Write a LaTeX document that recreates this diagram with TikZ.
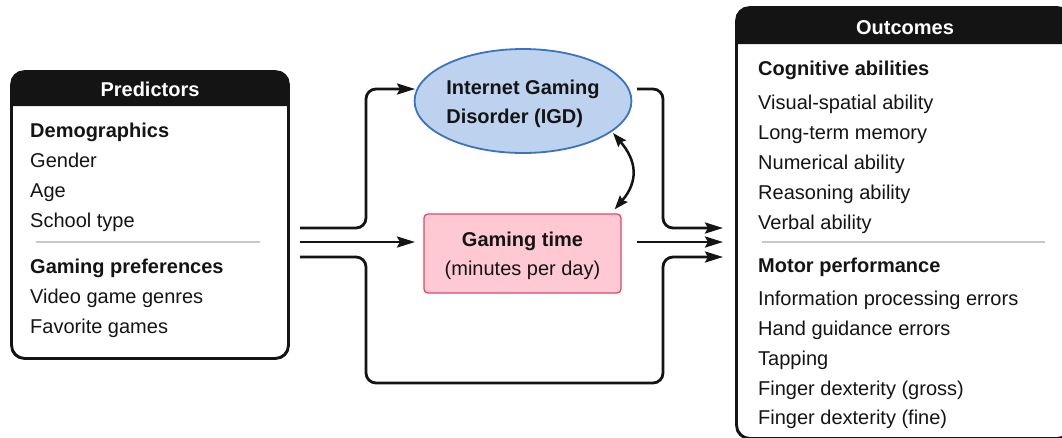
\documentclass[tikz,border=0pt]{standalone}
\usepackage{fontspec}
\setmainfont{Liberation Sans}
\usetikzlibrary{arrows.meta,shapes.geometric}
\definecolor{igdfill}{HTML}{BDD2EE}
\definecolor{igddraw}{HTML}{3C73BF}
\definecolor{gtfill}{HTML}{FFC9D4}
\definecolor{gtdraw}{HTML}{E5476A}
\definecolor{ink}{HTML}{141414}
\definecolor{sepcol}{HTML}{C8C8C8}
\begin{document}
\begin{tikzpicture}[x=1pt,y=-1pt,
  font=\fontsize{20}{29}\selectfont,
  panel/.style={draw=ink, line width=1.8pt, rounded corners=13pt, inner sep=0pt},
  item/.style={anchor=base west, inner sep=0pt, text=ink},
  headitem/.style={item, font=\fontsize{20}{29}\selectfont\bfseries},
  paneltitle/.style={anchor=base, inner sep=0pt, text=white, font=\fontsize{20}{29}\selectfont\bfseries},
  conn/.style={draw=ink, line width=2.8pt, rounded corners=10pt},
  tip/.style={-{Stealth[length=18pt,width=11pt,inset=3pt]}},
  sepline/.style={draw=sepcol, line width=1.5pt}]
\useasboundingbox (0,0) rectangle (1062,437);
\clip (0,0) rectangle (1062,437);

% ---------- Predictors panel ----------
\node[panel, minimum width=276pt, minimum height=286pt] (pred) at (150,215) {};
\fill[ink] ([yshift=-35pt]pred.north west) [rounded corners=13pt] -- (pred.north west) -- (pred.north east) [sharp corners] -- ([yshift=-35pt]pred.north east) -- cycle;
\draw[ink, line width=1.8pt, rounded corners=13pt] (pred.north west) rectangle (pred.south east);
\node[paneltitle] (predtitle) at (150,96) {Predictors};
\node[headitem] (demo) at (30,137) {Demographics};
\node[item] (p1) at (30,167) {Gender};
\node[item] (p2) at (30,197) {Age};
\node[item] (p3) at (30,227) {School type};
\coordinate (ps1) at (36,242);
\coordinate (ps2) at (260,242);
\draw[sepline] (ps1) -- (ps2);
\node[headitem] (gpref) at (30,273) {Gaming preferences};
\node[item] (p4) at (30,303) {Video game genres};
\node[item] (p5) at (30,333) {Favorite games};

% ---------- Outcomes panel ----------
\node[panel, minimum width=333pt, minimum height=430pt] (out) at (903.5,223) {};
\fill[ink] ([yshift=-37pt]out.north west) [rounded corners=13pt] -- (out.north west) -- (out.north east) [sharp corners] -- ([yshift=-37pt]out.north east) -- cycle;
\draw[ink, line width=1.8pt, rounded corners=13pt] (out.north west) rectangle (out.south east);
\node[paneltitle] (outtitle) at (905,34) {Outcomes};
\node[headitem] (cog) at (758,75) {Cognitive abilities};
\node[item] (o1) at (758,109) {Visual-spatial ability};
\node[item] (o2) at (758,139) {Long-term memory};
\node[item] (o3) at (758,169) {Numerical ability};
\node[item] (o4) at (758,199) {Reasoning ability};
\node[item] (o5) at (758,229) {Verbal ability};
\coordinate (os1) at (762,242);
\coordinate (os2) at (1045,242);
\draw[sepline] (os1) -- (os2);
\node[headitem] (motor) at (758,272) {Motor performance};
\node[item] (o6) at (758,305) {Information processing errors};
\node[item] (o7) at (758,335) {Hand guidance errors};
\node[item] (o8) at (758,365) {Tapping};
\node[item] (o9) at (758,395) {Finger dexterity (gross)};
\node[item] (o10) at (758,424) {Finger dexterity (fine)};

% ---------- Middle nodes ----------
\node[ellipse, draw=igddraw, fill=igdfill, line width=1.8pt, minimum width=204pt, minimum height=104pt,
      inner sep=0pt, align=left, text=ink, font=\fontsize{20}{29}\selectfont\bfseries] (igd) at (523,101)
      {\rule{0pt}{21pt}Internet Gaming\\Disorder (IGD)};
\node[rectangle, draw=gtdraw, fill=gtfill, line width=1.3pt, rounded corners=4pt, minimum width=197pt,
      minimum height=79pt, inner sep=0pt, align=center, text=ink] (gt) at (522.5,253.5)
      {\rule{0pt}{20pt}{\bfseries Gaming time}\\(minutes per day)};

% ---------- Connector endpoints ----------
\coordinate (inT) at (300,228);
\coordinate (inM) at (300,242);
\coordinate (inB) at (300,257);
\coordinate (igdIn) at (415,89);
\coordinate (gtIn) at (415,242);
\coordinate (igdOut) at (637,89);
\coordinate (gtOut) at (637,242);
\coordinate (outT) at (723,228);
\coordinate (outM) at (723,242);
\coordinate (outB) at (723,257);

\draw[conn, tip] (inT) -- (366,228) -- (366,89) -- (igdIn);
\draw[conn, tip] (inM) -- (gtIn);
\draw[conn, tip] (inB) -- (366,257) -- (366,383) -- (663,383) -- (663,257) -- (outB);
\draw[conn, tip] (igdOut) -- (663,89) -- (663,228) -- (outT);
\draw[conn, tip] (gtOut) -- (outM);

% ---------- Double arrow ----------
\coordinate (dA) at ([shift={(-7pt,4pt)}]gt.north east);
\coordinate (dB) at (613,133);
\draw[draw=ink, line width=2.5pt, {Stealth[length=14pt,width=10pt,inset=2pt]}-{Stealth[length=14pt,width=10pt,inset=2pt]}]
  (dA) .. controls +(24,-28) and +(24,28) .. (dB);
\end{tikzpicture}
\end{document}
